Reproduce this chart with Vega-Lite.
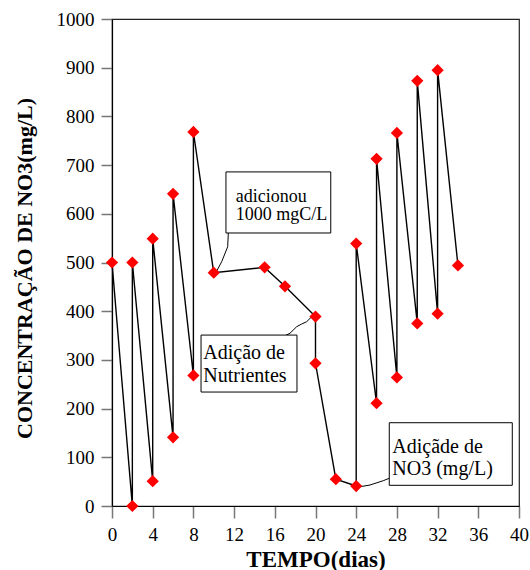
{
  "$schema": "https://vega.github.io/schema/vega-lite/v6.json",
  "width": 407,
  "height": 487,
  "autosize": "none",
  "padding": {"left": 112, "top": 19, "right": 11, "bottom": 64},
  "background": "#ffffff",
  "config": {
    "font": "Liberation Serif",
    "view": {"stroke": "#222222", "strokeWidth": 1.2}
  },
  "datasets": {
    "series": [
      {"i": 1, "dia": 0, "no3": 500},
      {"i": 2, "dia": 2, "no3": 0},
      {"i": 3, "dia": 2, "no3": 500},
      {"i": 4, "dia": 4, "no3": 51},
      {"i": 5, "dia": 4, "no3": 549},
      {"i": 6, "dia": 6, "no3": 141},
      {"i": 7, "dia": 6, "no3": 641},
      {"i": 8, "dia": 8, "no3": 268},
      {"i": 9, "dia": 8, "no3": 768},
      {"i": 10, "dia": 10, "no3": 479},
      {"i": 11, "dia": 15, "no3": 490},
      {"i": 12, "dia": 17, "no3": 451},
      {"i": 13, "dia": 20, "no3": 389},
      {"i": 14, "dia": 20, "no3": 293},
      {"i": 15, "dia": 22, "no3": 55},
      {"i": 16, "dia": 24, "no3": 41},
      {"i": 17, "dia": 24, "no3": 539},
      {"i": 18, "dia": 26, "no3": 211},
      {"i": 19, "dia": 26, "no3": 713},
      {"i": 20, "dia": 28, "no3": 264},
      {"i": 21, "dia": 28, "no3": 766},
      {"i": 22, "dia": 30, "no3": 375},
      {"i": 23, "dia": 30, "no3": 873},
      {"i": 24, "dia": 32, "no3": 395},
      {"i": 25, "dia": 32, "no3": 895},
      {"i": 26, "dia": 34, "no3": 494}
    ],
    "boxes": [
      {"box": "a", "x": 11.2, "x2": 21.5, "y": 686, "y2": 560.6},
      {"box": "b", "x": 8.75, "x2": 18.18, "y": 351, "y2": 234},
      {"box": "c", "x": 27.25, "x2": 39.34, "y": 171, "y2": 42.5}
    ],
    "leaders": [
      {"box": "a", "k": 1, "x": 11.43, "y": 560.6},
      {"box": "a", "k": 2, "x": 11.37, "y": 532.4},
      {"box": "a", "k": 3, "x": 10.78, "y": 501.6},
      {"box": "a", "k": 4, "x": 10.29, "y": 482.5},
      {"box": "b", "k": 1, "x": 17.0, "y": 349.7},
      {"box": "b", "k": 2, "x": 17.49, "y": 354.6},
      {"box": "b", "k": 3, "x": 18.15, "y": 368.2},
      {"box": "b", "k": 4, "x": 18.64, "y": 373.7},
      {"box": "b", "k": 5, "x": 19.13, "y": 378.4},
      {"box": "b", "k": 6, "x": 19.63, "y": 388.7},
      {"box": "b", "k": 7, "x": 19.95, "y": 394.3},
      {"box": "c", "k": 1, "x": 27.25, "y": 56.9},
      {"box": "c", "k": 2, "x": 26.66, "y": 52},
      {"box": "c", "k": 3, "x": 25.36, "y": 43.1},
      {"box": "c", "k": 4, "x": 24.05, "y": 38.4}
    ],
    "smallText": [
      {"x": 12.16, "y": 625, "t": "adicionou"},
      {"x": 12.16, "y": 587.3, "t": "1000 mgC/L"}
    ],
    "bigText": [
      {"x": 8.97, "y": 301.8, "t": "Adição de"},
      {"x": 8.97, "y": 255.2, "t": "Nutrientes"},
      {"x": 27.55, "y": 108.8, "t": "Adiçãde de"},
      {"x": 27.55, "y": 63.7, "t": "NO3 (mg/L)"}
    ]
  },
  "layer": [
    {
      "data": {"name": "series"},
      "mark": {"type": "line", "color": "#000000", "strokeWidth": 1.4},
      "encoding": {
        "x": {
          "field": "dia", "type": "quantitative",
          "scale": {"domain": [0, 40], "nice": false, "zero": false},
          "axis": {
            "values": [0, 2, 4, 6, 8, 10, 12, 14, 16, 18, 20, 22, 24, 26, 28, 30, 32, 34, 36, 38, 40],
            "tickSize": {"condition": {"test": "datum.value % 4 !== 0", "value": 6}, "value": 12},
            "labelExpr": "datum.value % 4 === 0 ? datum.label : ''",
            "labelFont": "Liberation Serif", "labelFontSize": 19, "labelColor": "#000000",
            "labelPadding": 7, "labelFlush": false, "labelOverlap": false,
            "tickColor": "#777777", "tickWidth": 1.5,
            "domainColor": "#000000", "domainWidth": 1.2,
            "grid": false,
            "title": "TEMPO(dias)",
            "titleFont": "Liberation Serif", "titleFontSize": 23, "titleFontWeight": "bold", "titleColor": "#000000",
            "titleBaseline": "alphabetic", "titleY": 60
          }
        },
        "y": {
          "field": "no3", "type": "quantitative",
          "scale": {"domain": [0, 1000], "nice": false},
          "axis": {
            "values": [0, 50, 100, 150, 200, 250, 300, 350, 400, 450, 500, 550, 600, 650, 700, 750, 800, 850, 900, 950, 1000],
            "format": "d",
            "tickSize": {"condition": {"test": "datum.value % 100 !== 0", "value": 5}, "value": 11},
            "labelExpr": "datum.value % 100 === 0 ? datum.label : ''",
            "labelFont": "Liberation Serif", "labelFontSize": 19, "labelColor": "#000000",
            "labelPadding": 7, "labelFlush": false, "labelOverlap": false,
            "tickColor": "#777777", "tickWidth": 1.5,
            "domainColor": "#000000", "domainWidth": 1.2,
            "grid": false,
            "title": "CONCENTRAÇÃO DE NO3(mg/L)",
            "titleFont": "Liberation Serif", "titleFontSize": 22, "titleFontWeight": "bold", "titleColor": "#000000",
            "titleAngle": -90, "titleAlign": "center", "titleBaseline": "alphabetic",
            "titleX": -81, "titleY": 249
          }
        },
        "order": {"field": "i", "type": "quantitative"}
      }
    },
    {
      "data": {"name": "leaders"},
      "mark": {"type": "line", "color": "#000000", "strokeWidth": 1},
      "encoding": {
        "x": {"field": "x", "type": "quantitative"},
        "y": {"field": "y", "type": "quantitative"},
        "detail": {"field": "box"},
        "order": {"field": "k", "type": "quantitative"}
      }
    },
    {
      "data": {"name": "boxes"},
      "mark": {"type": "rect", "fill": "#ffffff", "stroke": "#000000", "strokeWidth": 1},
      "encoding": {
        "x": {"field": "x", "type": "quantitative"},
        "x2": {"field": "x2"},
        "y": {"field": "y", "type": "quantitative"},
        "y2": {"field": "y2"}
      }
    },
    {
      "data": {"name": "series"},
      "mark": {"type": "point", "shape": "diamond", "filled": true, "color": "#ff0000", "opacity": 1, "size": 150},
      "encoding": {
        "x": {"field": "dia", "type": "quantitative"},
        "y": {"field": "no3", "type": "quantitative"}
      }
    },
    {
      "data": {"name": "smallText"},
      "mark": {"type": "text", "align": "left", "baseline": "alphabetic", "font": "Liberation Serif", "fontSize": 18, "color": "#000000"},
      "encoding": {
        "x": {"field": "x", "type": "quantitative"},
        "y": {"field": "y", "type": "quantitative"},
        "text": {"field": "t"}
      }
    },
    {
      "data": {"name": "bigText"},
      "mark": {"type": "text", "align": "left", "baseline": "alphabetic", "font": "Liberation Serif", "fontSize": 20, "color": "#000000"},
      "encoding": {
        "x": {"field": "x", "type": "quantitative"},
        "y": {"field": "y", "type": "quantitative"},
        "text": {"field": "t"}
      }
    }
  ]
}
